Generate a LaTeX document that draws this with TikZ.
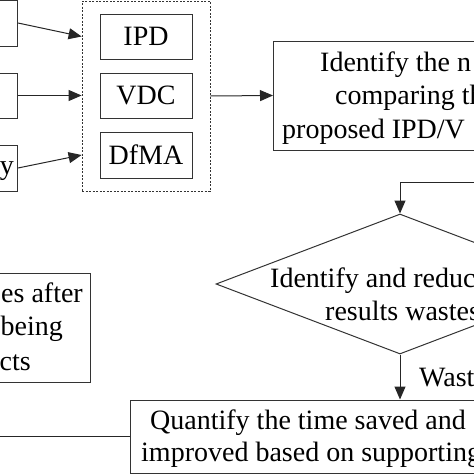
\documentclass[tikz,border=0pt]{standalone}
\usepackage{fontspec}
\setmainfont{Liberation Serif}
\usetikzlibrary{arrows.meta}
\usetikzlibrary{shapes.geometric}

\begin{document}
\begin{tikzpicture}[x=1pt, y=-1pt, >={Triangle[length=13pt,width=11pt]},
				   every node/.style={font=\fontsize{28}{34}\selectfont},
				   box/.style={draw=black!80, line width=1pt, inner sep=0pt},
				   group/.style={draw=black!80, line width=0.8pt, dash pattern=on 2pt off 1.5pt, inner sep=0pt},
				   txt/.style={inner sep=0pt, anchor=base west},
				   txtr/.style={inner sep=0pt, anchor=base east},
				   conn/.style={draw=black!85, line width=1pt}]
\path[use as bounding box, clip] (0,0) rectangle (474,474);

\node[box, anchor=east, minimum width=100pt, minimum height=46pt] (in1) at (18,23) {};
\node[box, anchor=east, minimum width=100pt, minimum height=45pt] (in2) at (18,95.5) {};
\node[box, anchor=east, minimum width=100pt, minimum height=46pt] (in3) at (18,168) {};
\node[txtr] (in3t) at (14,174) {y};

\node[group, minimum width=128pt, minimum height=190pt] (grp) at (146,96) {};
\node[box, minimum width=92pt, minimum height=45pt] (ipd) at (146,36.5) {IPD};
\node[box, minimum width=92pt, minimum height=45pt] (vdc) at (146,95.5) {VDC};
\node[box, minimum width=92pt, minimum height=46pt] (dfma) at (146,155) {DfMA};

\node[box, anchor=west, minimum width=400pt, minimum height=109pt] (ident) at (273,95.5) {};
\node[txt] (ident1) at (320,71) {Identify the n};
\node[txt] (ident2) at (335,104) {comparing th};
\node[txt] (ident3) at (282,138) {proposed IPD/V};

\node[box, diamond, minimum width=368pt, minimum height=140pt] (dec) at (400,284) {};
\node[txt] (dec1) at (270,287) {Identify and reduc};
\node[txt] (dec2) at (325,320) {results wastes};

\node[box, anchor=east, minimum width=200pt, minimum height=109pt] (after) at (91,327.5) {};
\node[txtr] (after1) at (83,302) {es after};
\node[txtr] (after2) at (63,335) {being};
\node[txtr] (after3) at (31,370) {cts};

\node[box, anchor=west, minimum width=500pt, minimum height=73pt] (quant) at (130,436.5) {};
\node[txt] (quant1) at (150,429) {Quantify the time saved and};
\node[txt] (quant2) at (141,461) {improved based on supporting};
\node[txt] (waste) at (419,386) {Wast};

\coordinate (back) at (520,182);
\coordinate (from) at (-30,436.5);

\draw[conn, ->] (in1.east) -- (grp.west |- ipd);
\draw[conn, ->] (in2.east) -- (grp.west |- vdc);
\draw[conn, ->] (in3.east) -- (grp.west |- dfma);
\draw[conn, ->] (grp.east) -- (ident.west);
\draw[conn, ->] (back) -| (dec.north);
\draw[conn, ->] (dec.south) -- (dec.south |- quant.north);
\draw[conn] (from) -- (quant.west);
\end{tikzpicture}
\end{document}
